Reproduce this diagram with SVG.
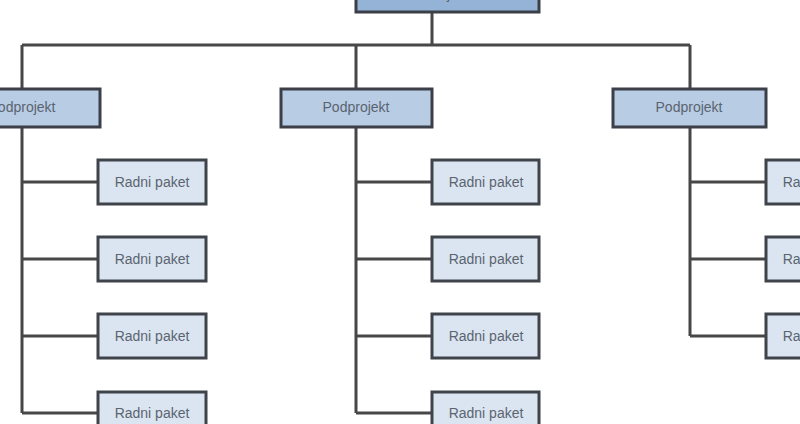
<svg xmlns="http://www.w3.org/2000/svg" width="800" height="424" viewBox="0 0 800 424">
<style>
.ln{stroke:#474747;stroke-width:3;fill:none}
.top{fill:#95b3d7;stroke:#3a3f48;stroke-width:3}
.sub{fill:#b8cce4;stroke:#3a3f48;stroke-width:3}
.wp{fill:#dbe5f1;stroke:#3f434a;stroke-width:3}
text{font-family:"Liberation Sans",Arial,sans-serif;font-size:14px;fill:#5a6470;text-anchor:middle}
</style>
<rect width="800" height="424" fill="#ffffff"/>
<g id="connectors">
<path class="ln" d="M432,12 V45 M22,45 H690 M22,45 V89 M356,45 V89 M690,45 V89"/>
<path class="ln" d="M22,127 V413 M22,182 H97 M22,259 H97 M22,336 H97 M22,413 H97"/>
<path class="ln" d="M356,127 V413 M356,182 H432 M356,259 H432 M356,336 H432 M356,413 H432"/>
<path class="ln" d="M690,127 V336 M690,182 H765 M690,259 H765 M690,336 H765"/>
</g>
<g id="projekt"><rect class="top" x="356" y="-40" width="183" height="52"/><text x="447" y="-1">Projekt</text></g>
<g id="sub1"><rect class="sub" x="-56" y="89" width="156" height="38"/><text x="22" y="112">Podprojekt</text></g>
<g id="sub2"><rect class="sub" x="281" y="89" width="151" height="38"/><text x="356" y="112">Podprojekt</text></g>
<g id="sub3"><rect class="sub" x="613" y="89" width="153" height="38"/><text x="689" y="112">Podprojekt</text></g>
<g id="wp1a"><rect class="wp" x="98" y="160" width="108" height="44"/><text x="152" y="187">Radni paket</text></g>
<g id="wp1b"><rect class="wp" x="98" y="237" width="108" height="44"/><text x="152" y="264">Radni paket</text></g>
<g id="wp1c"><rect class="wp" x="98" y="314" width="108" height="44"/><text x="152" y="341">Radni paket</text></g>
<g id="wp1d"><rect class="wp" x="98" y="392" width="108" height="44"/><text x="152" y="418">Radni paket</text></g>
<g id="wp2a"><rect class="wp" x="432" y="160" width="107" height="44"/><text x="486" y="187">Radni paket</text></g>
<g id="wp2b"><rect class="wp" x="432" y="237" width="107" height="44"/><text x="486" y="264">Radni paket</text></g>
<g id="wp2c"><rect class="wp" x="432" y="314" width="107" height="44"/><text x="486" y="341">Radni paket</text></g>
<g id="wp2d"><rect class="wp" x="432" y="392" width="107" height="44"/><text x="486" y="418">Radni paket</text></g>
<g id="wp3a"><rect class="wp" x="766" y="160" width="108" height="44"/><text x="820" y="187">Radni paket</text></g>
<g id="wp3b"><rect class="wp" x="766" y="237" width="108" height="44"/><text x="820" y="264">Radni paket</text></g>
<g id="wp3c"><rect class="wp" x="766" y="314" width="108" height="44"/><text x="820" y="341">Radni paket</text></g>
</svg>
